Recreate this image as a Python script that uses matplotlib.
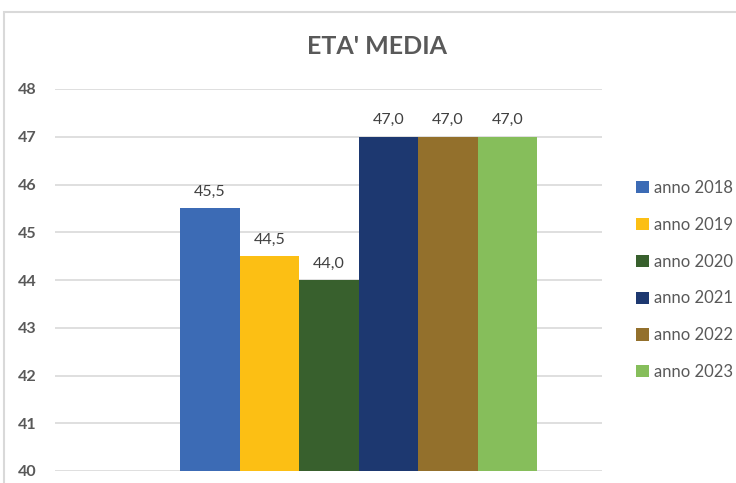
import matplotlib.pyplot as plt
from matplotlib.patches import Rectangle

plt.rcParams['font.family'] = ['Lato', 'DejaVu Sans']

anni = ["anno 2018", "anno 2019", "anno 2020", "anno 2021", "anno 2022", "anno 2023"]
eta = [45.5, 44.5, 44.0, 47.0, 47.0, 47.0]
colori = ["#3C6BB5", "#FCBF14", "#38602D", "#1D3870", "#93702C", "#86BE5B"]
y_ticks = [40, 41, 42, 43, 44, 45, 46, 47, 48]

fig = plt.figure(figsize=(7.36, 4.83), dpi=100, facecolor='w')
# axes: x 55..602 px, y 89..471 px
ax = fig.add_axes([55 / 736, 1 - 471 / 483, (602 - 55) / 736, (471 - 89) / 483])

# cornice del grafico
fig.patches.append(Rectangle((4 / 736, -0.05), 1.0, 1 - 12 / 483 + 0.05,
                             transform=fig.transFigure, fill=False,
                             edgecolor="#D9D9D9", linewidth=1.5))

x = list(range(len(anni)))
bars = ax.bar(x, [v - 40 for v in eta], bottom=40, width=1.0, color=colori)

for xi, v in zip(x, eta):
    ax.text(xi, v + 0.2, f"{v:.1f}".replace(".", ","), ha="center", va="bottom",
            fontsize=11.5, color="#404040")

ax.set_ylim(40, 48)
ax.set_xlim(-2.6, 6.59)
ax.set_yticks(y_ticks)
ax.set_xticks([])
ax.yaxis.grid(True, color="#D9D9D9", linewidth=1.2)
ax.set_axisbelow(True)
for s in ax.spines.values():
    s.set_visible(False)
ax.tick_params(axis="y", length=0, pad=13, labelsize=11.5, labelcolor="#595959")
for lab in ax.get_yticklabels():
    lab.set_fontweight("bold")

fig.text(377 / 736, 1 - 47 / 483, "ETA' MEDIA", ha="center", va="center",
         fontsize=18, fontweight="bold", color="#595959")

leg = fig.legend(bars, anni, loc="center left", bbox_to_anchor=(621 / 736, 1 - 280 / 483),
                 frameon=False, fontsize=12, labelspacing=1.25, handlelength=0.75,
                 handleheight=0.75, handletextpad=0.3)
for t in leg.get_texts():
    t.set_color("#595959")

fig.savefig("out.png", dpi=100)
